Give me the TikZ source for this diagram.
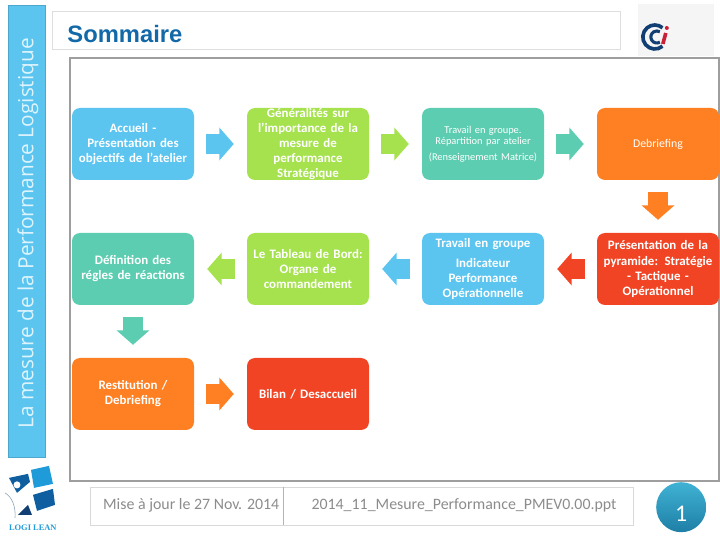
\documentclass[tikz,border=0pt]{standalone}
\usepackage{fontspec}
\setmainfont{Carlito}
\newfontfamily\sidefont{Open Sans}
\newfontfamily\titlefont{Liberation Sans}
\newfontfamily\logofont{Liberation Serif}
\usepackage{tikz}
\usetikzlibrary{arrows.meta, positioning}

\definecolor{skyblue}{HTML}{5BC5F0}
\definecolor{limegreen}{HTML}{A5E24E}
\definecolor{mintgreen}{HTML}{5CCDB0}
\definecolor{carrot}{HTML}{FF8022}
\definecolor{brick}{HTML}{F04424}
\definecolor{titleblue}{HTML}{1369A8}
\definecolor{footgray}{HTML}{8C8C8C}
\definecolor{navy}{HTML}{123F73}
\definecolor{ccired}{HTML}{C8213A}
\definecolor{logosky}{HTML}{1E9BD8}
\definecolor{logodeep}{HTML}{0F5FA0}
\definecolor{pagetop}{HTML}{3FB2D4}
\definecolor{pagebottom}{HTML}{1F7FA6}

\tikzset{
    stagebox/.style={rounded corners=0.2cm, minimum width=3.05cm, minimum height=1.8cm, align=center, text=white, text width=2.95cm, inner sep=0pt, outer sep=0pt, font=\fontsize{9.2}{10.7}\selectfont\bfseries},
    blockarrow/.style={line width=0.48cm, -{Triangle[length=0.36cm, width=0.8cm]}, shorten <=0.3cm, shorten >=0.33cm},
    pixels/.style={x=0.025cm, y=-0.025cm, yshift=13.5cm}
}

\begin{document}
\begin{tikzpicture}[node distance=1.325cm]
    \useasboundingbox (0,0) rectangle (18,13.5);
    % Side band
    \node[draw=skyblue!85!black, fill=skyblue, minimum width=0.92cm, minimum height=11.3cm, inner sep=0pt] (band) at (0.66,7.725) {};
    \node[rotate=90, text=white!80!skyblue, font=\sidefont\fontsize{14.8}{16}\selectfont] (bandtext) at (0.7,7.67) {La mesure de la Performance Logistique};

    % Title
    \node[draw=black!13, minimum width=14.22cm, minimum height=0.95cm, line width=0.7pt] (titlebox) at (8.41,12.75) {};
    \node[anchor=west, text=titleblue, inner sep=0pt, font=\titlefont\fontsize{16.9}{18}\selectfont\bfseries] (title) at (1.68,12.66) {Sommaire};

    % Main frame
    \node[draw=black!38, line width=1.4pt, minimum width=16.22cm, minimum height=10.58cm, inner sep=0pt] (frame) at (9.86,6.76) {};

    % CCI logo
    \node[fill=black!4, minimum width=1.9cm, minimum height=1.3cm, inner sep=0pt] (ccibox) at (16.9,12.75) {};
    \begin{scope}[pixels]
        \draw[line width=2.6pt, navy] (655,37) ++(50:12) arc (50:310:12);
        \draw[line width=2.2pt, navy] (657,37) ++(60:6) arc (60:300:6);
        \draw[line width=2.6pt, ccired] (663,44) -- (666,33);
        \fill[ccired] (667,28) circle (2);
    \end{scope}

    % Stages
    \node[stagebox, fill=skyblue] (accueil) at (3.325,9.9) {Accueil -\\Présentation des\\objectifs de l'atelier};
    \node[stagebox, fill=limegreen, right=of accueil] (generalites) {Généralités sur\\l'importance de la\\mesure de\\performance\\Stratégique};
    \node[stagebox, fill=mintgreen, right=of generalites, font=\fontsize{7.4}{8}\selectfont] (travail) {Travail en groupe.\\Répartition par atelier\\[3pt](Renseignement Matrice)};
    \node[stagebox, fill=carrot, right=of travail, font=\fontsize{8.4}{10}\selectfont] (debriefing) {Debriefing};

    \node[stagebox, fill=brick, below=of debriefing] (pyramide) {Présentation de la\\pyramide: Stratégie\\- Tactique -\\Opérationnel};
    \node[stagebox, fill=skyblue, below=of travail] (indicateur) {Travail en groupe\\[4pt]Indicateur\\Performance\\Opérationnelle};
    \node[stagebox, fill=limegreen, below=of generalites] (tableau) {Le Tableau de Bord:\\Organe de\\commandement};
    \node[stagebox, fill=mintgreen, below=of accueil] (regles) {Définition des\\régles de réactions};

    \node[stagebox, fill=carrot, below=of regles] (restitution) {Restitution /\\Debriefing};
    \node[stagebox, fill=brick, below=of tableau] (bilan) {Bilan / Desaccueil};

    % Arrows
    \draw[blockarrow, skyblue] (accueil) -- (generalites);
    \draw[blockarrow, limegreen] (generalites) -- (travail);
    \draw[blockarrow, mintgreen] (travail) -- (debriefing);
    \draw[blockarrow, carrot] (debriefing) -- (pyramide);
    \draw[blockarrow, brick] (pyramide) -- (indicateur);
    \draw[blockarrow, skyblue] (indicateur) -- (tableau);
    \draw[blockarrow, limegreen] (tableau) -- (regles);
    \draw[blockarrow, mintgreen] (regles) -- (restitution);
    \draw[blockarrow, carrot] (restitution) -- (bilan);

    % Logi Lean logo
    \begin{scope}[pixels]
        \fill[logosky] (31,470) -- (49,466) -- (53,484) -- (34,488) -- cycle;
        \fill[logodeep] (9,478) -- (28,474) -- (30,482) -- (17,493) -- cycle;
        \fill[white] (17,485) circle (3.5);
        \fill[logodeep] (33,495) -- (53,489) -- (55,505) -- (37,511) -- cycle;
        \fill[navy] (18,515) -- (28,505) -- (32,515) -- cycle;
        \draw[navy!50, line width=0.4pt] (5,493) .. controls (12,497) and (16,507) .. (15,518);
    \end{scope}
    \node[text=logosky, inner sep=0pt, font=\logofont\fontsize{6}{7}\selectfont\bfseries] (logilean) at (0.82,0.3) {LOGI LEAN};

    % Footer
    \node[draw=black!15, minimum width=13.58cm, minimum height=0.95cm, inner sep=0pt] (footer) at (9.04,0.85) {};
    \draw[blue!25!black!30] (footer.north west) ++(4.83,0) coordinate (splittop) -- (splittop |- footer.south);
    \node[text=footgray, font=\fontsize{11.3}{13}\selectfont, inner sep=0pt] (update) at (4.78,0.86) {Mise à jour le 27 Nov. 2014};
    \node[text=footgray, font=\fontsize{11.3}{13}\selectfont, inner sep=0pt] (filename) at (11.6,0.86) {2014\_11\_Mesure\_Performance\_PMEV0.00.ppt};

    % Page number
    \node[circle, top color=pagetop, bottom color=pagebottom, minimum size=1.25cm, inner sep=0pt] (page) at (17.03,0.82) {};
    \node[text=white, inner sep=0pt, font=\fontsize{17}{18}\selectfont] (number) at ([yshift=-0.17cm]page.center) {1};
\end{tikzpicture}
\end{document}
